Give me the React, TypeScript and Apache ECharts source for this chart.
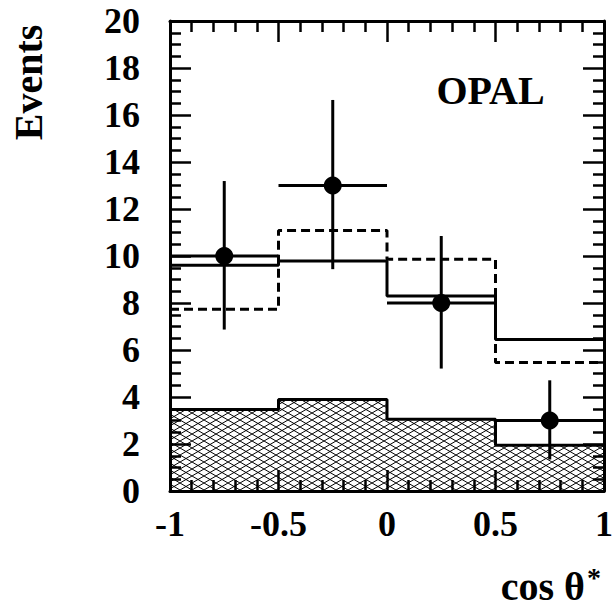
import { useEffect, useRef } from 'react';
import * as echarts from 'echarts';

// bins in cos theta*
const binEdges = [-1, -0.5, 0, 0.5, 1];
const binCenters = [-0.75, -0.25, 0.25, 0.75];

// data points with errors
const dataEvents = [10, 13, 8, 3];
const errLow = [6.87, 9.44, 5.21, 1.34];
const errHigh = [13.19, 16.64, 10.85, 4.71];

// histograms
const solidHist = [9.61, 9.79, 8.3, 6.45];
const dashedHist = [7.73, 11.09, 9.86, 5.47];
const hatchedHist = [3.47, 3.89, 3.05, 1.95];

// tick labels
const xTickValues = [-1, -0.5, 0, 0.5, 1];
const xTickLabels = ['-1', '-0.5', '0', '0.5', '1'];
const yTickValues = [0, 2, 4, 6, 8, 10, 12, 14, 16, 18, 20];
const yTickLabels = ['0', '2', '4', '6', '8', '10', '12', '14', '16', '18', '20'];

const FONT = '"Liberation Serif", "DejaVu Serif", serif';

const stepData = (hist: number[]) =>
  binEdges.map((e, i) => [e, hist[Math.min(i, hist.length - 1)]]);

const makeHatch = () => {
  const w = 12;
  const h = 7;
  const c = document.createElement('canvas');
  c.width = w;
  c.height = h;
  const ctx = c.getContext('2d')!;
  ctx.fillStyle = '#fff';
  ctx.fillRect(0, 0, w, h);
  ctx.strokeStyle = '#000';
  ctx.lineWidth = 1;
  for (const dx of [-w, 0, w]) {
    ctx.beginPath();
    ctx.moveTo(dx, 0);
    ctx.lineTo(dx + w, h);
    ctx.moveTo(dx, h);
    ctx.lineTo(dx + w, 0);
    ctx.stroke();
  }
  return c;
};

const App = () => {
  const chartRef = useRef<HTMLDivElement>(null);

  useEffect(() => {
    if (!chartRef.current) return;
    const chart = echarts.init(chartRef.current, undefined, { renderer: 'svg' });

    const axisCommon = {
      type: 'value' as const,
      z: 10,
      axisLine: { show: true, onZero: false, lineStyle: { color: '#000', width: 3 } },
      axisTick: { show: true, inside: true, length: 21, lineStyle: { color: '#000', width: 2.5 } },
      splitLine: { show: false },
    };

    const labelStyle = {
      show: true,
      color: '#000',
      fontFamily: FONT,
      fontWeight: 700,
      fontSize: 36,
    };

    const halfWidth = (binEdges[1] - binEdges[0]) / 2;

    const option: any = {
      animation: false,
      backgroundColor: '#fff',
      textStyle: { fontFamily: FONT },
      grid: { left: 170, right: 11, top: 21, bottom: 123, outerBoundsMode: 'none', containLabel: false },
      xAxis: [
        {
          ...axisCommon,
          position: 'bottom',
          min: -1,
          max: 1,
          interval: 0.5,
          minorTick: { show: true, splitNumber: 5, length: 11, lineStyle: { color: '#000', width: 2.5 } },
          axisLabel: {
            ...labelStyle,
            margin: 15,
            formatter: (v: number) => xTickLabels[xTickValues.indexOf(v)] ?? '',
          },
        },
        {
          ...axisCommon,
          position: 'top',
          min: -1,
          max: 1,
          interval: 0.5,
          minorTick: { show: true, splitNumber: 5, length: 11, lineStyle: { color: '#000', width: 2.5 } },
          axisLabel: { show: false },
        },
      ],
      yAxis: [
        {
          ...axisCommon,
          position: 'left',
          min: 0,
          max: 20,
          interval: 2,
          minorTick: { show: true, splitNumber: 4, length: 11, lineStyle: { color: '#000', width: 2.5 } },
          axisLabel: {
            ...labelStyle,
            margin: 30,
            formatter: (v: number) => yTickLabels[yTickValues.indexOf(v)] ?? '',
          },
        },
        {
          ...axisCommon,
          position: 'right',
          min: 0,
          max: 20,
          interval: 2,
          minorTick: { show: true, splitNumber: 4, length: 11, lineStyle: { color: '#000', width: 2.5 } },
          axisLabel: { show: false },
        },
      ],
      graphic: [
        {
          type: 'text',
          x: 28.5,
          y: 82.5,
          rotation: Math.PI / 2,
          style: {
            text: 'Events',
            fill: '#000',
            font: `bold 40px ${FONT}`,
            align: 'center',
            verticalAlign: 'middle',
          },
        },
        {
          type: 'text',
          x: 490.5,
          y: 90.5,
          z: 20,
          style: {
            text: 'OPAL',
            fill: '#000',
            font: `bold 40px ${FONT}`,
            align: 'center',
            verticalAlign: 'middle',
          },
        },
        {
          type: 'text',
          x: 585,
          y: 586.5,
          style: {
            text: 'cos θ',
            fill: '#000',
            font: `bold 40px ${FONT}`,
            align: 'right',
            verticalAlign: 'middle',
          },
        },
        {
          type: 'text',
          x: 587,
          y: 577,
          style: {
            text: '*',
            fill: '#000',
            font: `bold 28px ${FONT}`,
            align: 'left',
            verticalAlign: 'middle',
          },
        },
      ],
      series: [
        {
          name: 'background',
          type: 'line',
          step: 'end',
          data: stepData(hatchedHist),
          symbol: 'none',
          z: 1,
          lineStyle: { color: '#000', width: 3 },
          areaStyle: { color: { image: makeHatch(), repeat: 'repeat' }, opacity: 1 },
        },
        {
          name: 'dashed',
          type: 'line',
          step: 'end',
          data: stepData(dashedHist),
          symbol: 'none',
          z: 3,
          lineStyle: { color: '#000', width: 3, type: [9, 5] },
        },
        {
          name: 'solid',
          type: 'line',
          step: 'end',
          data: stepData(solidHist),
          symbol: 'none',
          z: 3,
          lineStyle: { color: '#000', width: 3 },
        },
        {
          name: 'errors',
          type: 'custom',
          z: 4,
          data: binCenters.map((x, i) => [x, dataEvents[i], errLow[i], errHigh[i]]),
          renderItem: (_params: any, api: any) => {
            const x = api.value(0);
            const y = api.value(1);
            const l = api.coord([x - halfWidth, y]);
            const r = api.coord([x + halfWidth, y]);
            const t = api.coord([x, api.value(3)]);
            const b = api.coord([x, api.value(2)]);
            const style = { stroke: '#000', lineWidth: 3 };
            return {
              type: 'group',
              children: [
                { type: 'line', shape: { x1: l[0], y1: l[1], x2: r[0], y2: r[1] }, style },
                { type: 'line', shape: { x1: t[0], y1: t[1], x2: b[0], y2: b[1] }, style },
              ],
            };
          },
        },
        {
          name: 'data',
          type: 'scatter',
          z: 5,
          symbol: 'circle',
          symbolSize: 18,
          data: binCenters.map((x, i) => [x, dataEvents[i]]),
          itemStyle: { color: '#000', opacity: 1 },
        },
      ],
    };

    chart.setOption(option);

    return () => {
      chart.dispose();
    };
  }, []);

  return (
    <div
      ref={chartRef}
      style={{ position: 'absolute', left: 0, top: 0, width: 615, height: 614 }}
    />
  );
};

export default App;
